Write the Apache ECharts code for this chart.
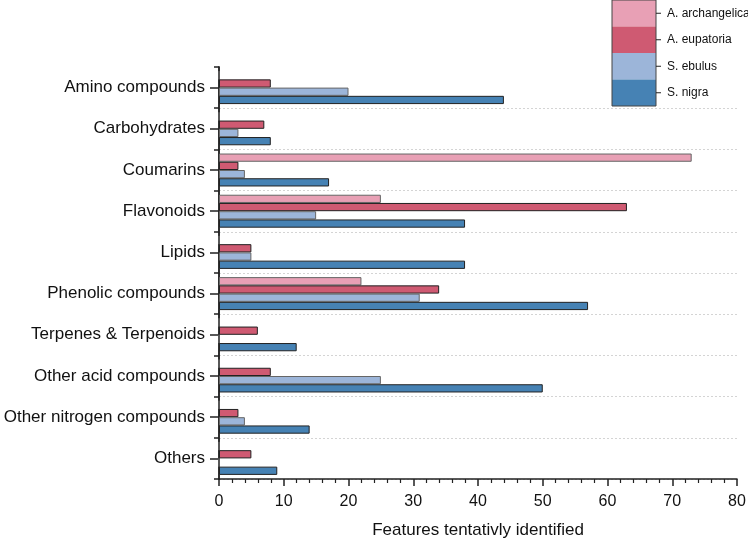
<!DOCTYPE html>
<html>
<head>
<meta charset="utf-8">
<script src="https://cdn.jsdelivr.net/npm/echarts@6/dist/echarts.min.js"></script>
<style>
  html, body { margin: 0; padding: 0; background: #fff; }
  #chart { width: 748px; height: 541px; }
</style>
</head>
<body>
<div id="chart"></div>
<script>
const categories = ['Amino compounds', 'Carbohydrates', 'Coumarins', 'Flavonoids', 'Lipids',
  'Phenolic compounds', 'Terpenes & Terpenoids', 'Other acid compounds', 'Other nitrogen compounds', 'Others'];
const archangelica = [0, 0, 73, 25, 0, 22, 0, 0, 0, 0];
const eupatoria = [8, 7, 3, 63, 5, 34, 6, 8, 3, 5];
const ebulus = [20, 3, 4, 15, 5, 31, 0, 25, 4, 0];
const nigra = [44, 8, 17, 38, 38, 57, 12, 50, 14, 9];

const seriesDefs = [
  { name: 'A. archangelica', data: archangelica, color: '#e8a0b5', border: '#666' },
  { name: 'A. eupatoria', data: eupatoria, color: '#cf5a72', border: '#222' },
  { name: 'S. ebulus', data: ebulus, color: '#9cb5d9', border: '#666' },
  { name: 'S. nigra', data: nigra, color: '#4682b4', border: '#222' }
];

var chart = echarts.init(document.getElementById('chart'));
var font = 'Liberation Sans, Arial, sans-serif';

var option = {
  animation: false,
  textStyle: { fontFamily: font },
  grid: { left: 219, right: 11, top: 67, bottom: 62, containLabel: false, outerBoundsMode: 'none' },
  legend: {
    orient: 'vertical',
    left: 612,
    top: 0,
    padding: 0,
    itemWidth: 44,
    itemHeight: 26.5,
    itemGap: 0,
    icon: 'rect',
    itemStyle: { borderWidth: 0 },
    textStyle: { fontSize: 12, color: '#111', padding: [0, 0, 0, 6] },
    data: seriesDefs.map(s => s.name)
  },
  xAxis: {
    type: 'value',
    min: 0,
    max: 80,
    interval: 10,
    name: 'Features tentativly identified',
    nameLocation: 'middle',
    nameGap: 43,
    nameTextStyle: { fontSize: 17, color: '#111' },
    axisLine: { show: true, lineStyle: { color: '#222', width: 1.5 } },
    axisTick: { show: true, length: 7, lineStyle: { color: '#222', width: 1.5 } },
    minorTick: { show: true, splitNumber: 5, length: 4, lineStyle: { color: '#222', width: 1.2 } },
    axisLabel: { fontSize: 16, color: '#111', margin: 15 },
    splitLine: { show: false }
  },
  yAxis: [
    {
      type: 'category',
      position: 'left',
      data: categories,
      inverse: true,
      axisLine: { show: true, lineStyle: { color: '#222', width: 1.5 } },
      axisTick: { show: true, length: 5, lineStyle: { color: '#222', width: 1.5 } },
      axisLabel: { show: false },
      splitLine: {
        show: true,
        interval: function (idx) { return idx !== 0; },
        lineStyle: { color: '#d4d4d4', type: [2, 2], width: 1 }
      }
    },
    {
      type: 'category',
      position: 'left',
      offset: 0,
      data: categories,
      inverse: true,
      axisLine: { show: true, lineStyle: { color: '#222', width: 1.5 } },
      axisTick: { show: true, alignWithLabel: true, length: 9, lineStyle: { color: '#222', width: 1.5 } },
      axisLabel: { fontSize: 17, color: '#111', margin: 14 },
      splitLine: { show: false }
    }
  ],
  graphic: [
    { type: 'rect', shape: { x: 612, y: 0, width: 44, height: 106 },
      style: { fill: 'none', stroke: '#444', lineWidth: 1 }, z: 100 }
  ].concat(seriesDefs.map((s, i) => ({
    type: 'line', shape: { x1: 656, y1: 13.25 + i * 26.5, x2: 661, y2: 13.25 + i * 26.5 },
    style: { stroke: '#222', lineWidth: 1 }, z: 100
  }))),
  series: seriesDefs.map(s => ({
    name: s.name,
    type: 'bar',
    yAxisIndex: 0,
    data: s.data,
    barGap: '0%',
    barCategoryGap: '20%',
    itemStyle: { color: s.color, borderColor: s.border, borderWidth: 1 }
  }))
};

chart.setOption(option);
</script>
</body>
</html>
